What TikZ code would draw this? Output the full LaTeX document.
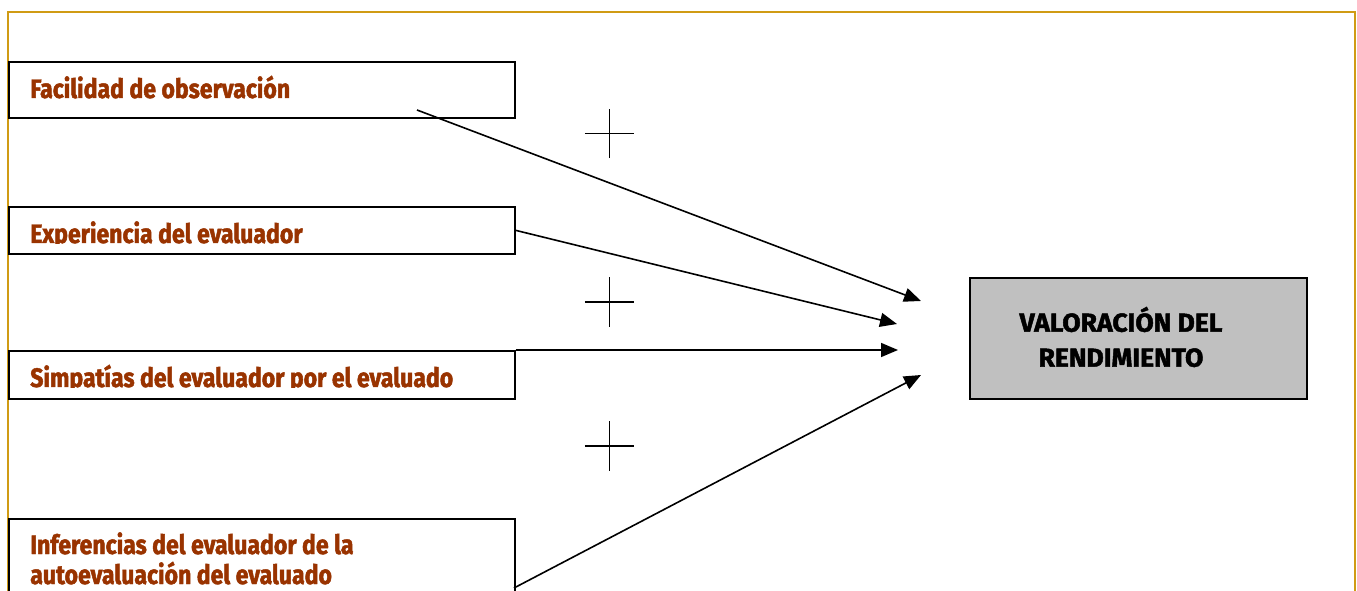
\documentclass[tikz,border=0pt]{standalone}
\usepackage{fontspec}
\newfontfamily\condfont[FakeStretch=0.865,FakeBold=1.8]{Fira Sans}
\newfontfamily\capsfont[FakeStretch=1.02,FakeBold=1.8]{Fira Sans}
\usetikzlibrary{arrows.meta}
\definecolor{framegold}{RGB}{208,155,20}
\definecolor{labelred}{RGB}{153,51,0}
\definecolor{boxgray}{RGB}{192,192,192}
\tikzset{
  factor/.style={draw=black, line width=1.3pt, fill=white, inner sep=0pt, anchor=north west, minimum width=379.5pt},
  factorlabel/.style={font=\condfont\bfseries\fontsize{20}{22.5}\selectfont, text=labelred, anchor=base west, inner sep=0pt, align=left},
  outcome/.style={draw=black, line width=1.3pt, fill=boxgray, inner sep=0pt, anchor=north west, minimum width=252.75pt, minimum height=90.75pt},
  outcomelabel/.style={font=\capsfont\bfseries\fontsize{19.5}{26.25}\selectfont, text=black, inner sep=0pt, align=center},
  flow/.style={line width=1.2pt, -{Triangle[length=12.75pt,width=10.5pt]}},
  plusmark/.style={line width=1.2pt}
}
\begin{document}
\begin{tikzpicture}[x=0.75pt,y=-0.75pt]
\clip (0,0) rectangle (1357,591);
\fill[white] (0,0) rectangle (1357,591);
% outer frame, open at the bottom
\draw[framegold, line width=2.2pt] (8,640) -- (8,12) -- (1355,12) -- (1355,640);

% factor boxes
\node[factor, minimum height=42pt] (f1) at (8,61) {};
\node[factor, minimum height=35.25pt] (f2) at (8,206) {};
\node[factor, minimum height=36pt] (f3) at (8,350) {};
\node[factor, minimum height=90pt] (f4) at (8,518) {};

\node[factorlabel] (t1) at (30,98) {Facilidad de observación};
\begin{scope}
  \clip (8,206) rectangle (514,244);
  \node[factorlabel] (t2) at (30,243) {Experiencia del evaluador};
\end{scope}
\begin{scope}
  \clip (8,350) rectangle (514,388);
  \node[factorlabel] (t3) at (30,387) {Simpatías del evaluador por el evaluado};
\end{scope}
\node[factorlabel] (t4) at (30,584) {Inferencias del evaluador de la\\autoevaluación del evaluado};

% outcome box
\node[outcome] (val) at (969,277) {};
\node[outcomelabel] (vt) at (1121,337) {VALORACIÓN DEL\\RENDIMIENTO};

% arrow end points
\coordinate (s1) at (417,110);
\coordinate (s4) at (514,588);
\coordinate (e1) at (921,301);
\coordinate (e2) at (897,324);
\coordinate (e3) at (898,350);
\coordinate (e4) at (921,375);

\draw[flow] (s1) -- (e1);
\draw[flow] (f2.east) -- (e2);
\draw[flow] (f3.north east) -- (e3);
\draw[flow] (s4) -- (e4);

% plus signs
\foreach \py [count=\i] in {133.5,302,446}{
  \coordinate (p\i) at (609.5,\py);
  \draw[plusmark] ([xshift=-18.4pt]p\i) -- ([xshift=18.4pt]p\i);
  \draw[plusmark] ([yshift=-18.4pt]p\i) -- ([yshift=18.4pt]p\i);
}
\end{tikzpicture}
\end{document}
